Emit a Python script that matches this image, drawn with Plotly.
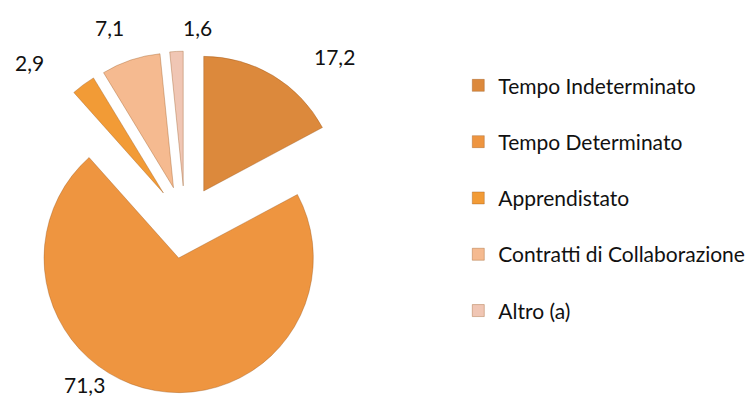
import plotly.graph_objects as go

categories = ["Tempo Indeterminato", "Tempo Determinato", "Apprendistato",
              "Contratti di Collaborazione", "Altro (a)"]
values = [17.2, 71.3, 2.9, 7.1, 1.6]
colors = ["#DC893C", "#EE9540", "#F29B36", "#F5BA90", "#F0C6B4"]
pull_amount = 0.27
# label anchor points (paper fractions) for the value labels, one per category
label_x = [0.433, 0.102, 0.028, 0.135, 0.252]
label_y = [0.880, 0.058, 0.865, 0.952, 0.952]

fig = go.Figure()
fig.add_trace(go.Pie(
    labels=categories,
    values=values,
    sort=False,
    direction="clockwise",
    rotation=0,
    pull=[pull_amount] * len(values),
    marker=dict(colors=colors, line=dict(color="rgba(150,80,20,0.35)", width=1)),
    textinfo="none",
    domain=dict(x=[0.008, 0.4622], y=[0.037, 0.892]),
    hoverinfo="label+value",
))
# invisible helper so that every slice gets its own legend group (lets us space the rows)
fig.add_trace(go.Pie(
    labels=[" "], values=[1], legendgroup="zz",
    marker=dict(colors=["rgba(0,0,0,0)"], line=dict(width=0)),
    textinfo="none", hoverinfo="skip",
    domain=dict(x=[0.99, 1.0], y=[0.0, 0.01]),
))

for v, lx, ly in zip(values, label_x, label_y):
    fig.add_annotation(
        x=lx, y=ly, xref="paper", yref="paper",
        text=f"{v:.1f}".replace(".", ","),
        showarrow=False,
        font=dict(family="Lato", size=21, color="#111111"),
        xanchor="center", yanchor="middle",
    )

fig.update_layout(
    width=753, height=400,
    separators=",.",
    paper_bgcolor="white",
    plot_bgcolor="white",
    margin=dict(l=0, r=0, t=0, b=0, autoexpand=False),
    font=dict(family="Lato", size=20, color="#111111"),
    showlegend=True,
    legend=dict(
        x=0.598, y=0.857, xanchor="left", yanchor="top",
        traceorder="grouped", tracegroupgap=26,
        font=dict(family="Lato", size=21, color="#111111"),
        itemwidth=30,
    ),
)

fig.write_html("out.html")
